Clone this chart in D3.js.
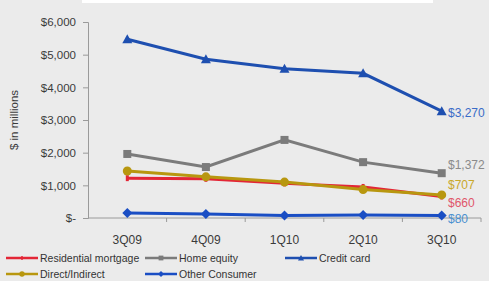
<!DOCTYPE html>
<html><head><meta charset="utf-8">
<script src="https://cdn.jsdelivr.net/npm/d3@7"></script>
<style>body{margin:0;background:#ebebeb;}svg{display:block;font-family:"Liberation Sans",Arial,sans-serif;}</style>
</head><body>
<svg id="c" width="489" height="281"></svg>
<script>
const categories = ["3Q09","4Q09","1Q10","2Q10","3Q10"];
const residentialMortgage = [1220, 1200, 1060, 950, 660];
const homeEquity = [1960, 1560, 2390, 1710, 1372];
const creditCard = [5470, 4860, 4570, 4430, 3270];
const directIndirect = [1440, 1260, 1100, 870, 707];
const otherConsumer = [150, 120, 80, 90, 80];
const yTicks = [0, 1000, 2000, 3000, 4000, 5000, 6000];
const endLabels = ["$660", "$1,372", "$3,270", "$707", "$80"];

const series = [
  {name:"Residential mortgage", values:residentialMortgage, color:"#e32636", marker:"dash", label:endLabels[0], labelColor:"#e0566a"},
  {name:"Home equity", values:homeEquity, color:"#7b7b7b", marker:"square", label:endLabels[1], labelColor:"#8a8a8a"},
  {name:"Credit card", values:creditCard, color:"#1e4fb0", marker:"triangle", label:endLabels[2], labelColor:"#3a6cc8"},
  {name:"Direct/Indirect", values:directIndirect, color:"#b8970f", marker:"circle", label:endLabels[3], labelColor:"#c9a82a"},
  {name:"Other Consumer", values:otherConsumer, color:"#1a4ec4", marker:"diamond", label:endLabels[4], labelColor:"#4a90d0"}
];

const svg = d3.select("#c");
svg.append("rect").attr("x",82).attr("y",0).attr("width",351).attr("height",3).attr("fill","#fff");

const x = d3.scaleBand().domain(categories).range([88, 481]);
const y = d3.scaleLinear().domain([0, 6000]).range([218, 22]);

const yAxis = d3.axisLeft(y).tickValues(yTicks).tickSize(5).tickPadding(7)
  .tickFormat(d => d === 0 ? "$-" : "$" + d3.format(",")(d));
const gy = svg.append("g").attr("transform","translate(88,0)").call(yAxis);
gy.select(".domain").attr("stroke","#9a9a9a");
gy.selectAll(".tick line").attr("stroke","#9a9a9a");
gy.selectAll("text").attr("fill","#3a3a3a").style("font-size","11.5px");

const gx = svg.append("g").attr("transform","translate(0,218)");
gx.append("line").attr("x1",88).attr("x2",481).attr("stroke","#9a9a9a");
gx.selectAll("line.t").data(categories).enter().append("line")
  .attr("x1",(d,i)=>88 + x.step()*(i+1)).attr("x2",(d,i)=>88 + x.step()*(i+1))
  .attr("y1",0).attr("y2",4).attr("stroke","#9a9a9a");
gx.selectAll("text").data(categories).enter().append("text")
  .attr("x",d=>x(d)+x.bandwidth()/2).attr("y",26).attr("text-anchor","middle")
  .attr("fill","#3a3a3a").style("font-size","12px").text(d=>d);

svg.append("text").attr("transform","translate(18,120) rotate(-90)").attr("text-anchor","middle")
  .attr("fill","#3a3a3a").style("font-size","11.5px").text("$ in millions");

const cx = d => x(d) + x.bandwidth()/2;
const line = d3.line().x((v,i)=>cx(categories[i])).y(v=>y(v));

function drawMarker(g, type, px, py, color, s) {
  s = s || 1;
  if (type === "square") g.append("rect").attr("x",px-4*s).attr("y",py-4*s).attr("width",8*s).attr("height",8*s).attr("fill",color);
  else if (type === "circle") g.append("circle").attr("cx",px).attr("cy",py).attr("r",4.5*s).attr("fill",color);
  else if (type === "triangle") g.append("path").attr("d",`M${px},${py-5*s}L${px+5*s},${py+4*s}L${px-5*s},${py+4*s}Z`).attr("fill",color);
  else if (type === "diamond") g.append("path").attr("d",`M${px},${py-5*s}L${px+5*s},${py}L${px},${py+5*s}L${px-5*s},${py}Z`).attr("fill",color);
  else if (type === "dash") g.append("rect").attr("x",px-1.5*s).attr("y",py-3*s).attr("width",3*s).attr("height",6*s).attr("fill",color);
}

const order = [2, 1, 0, 3, 4];
order.forEach(k => {
  const s = series[k];
  const g = svg.append("g");
  g.append("path").attr("d", line(s.values)).attr("fill","none").attr("stroke",s.color).attr("stroke-width",3);
  s.values.forEach((v,i)=>drawMarker(g, s.marker, cx(categories[i]), y(v), s.color));
});

const labelY = {"$3,270":113, "$1,372":165, "$707":185, "$660":203, "$80":219};
series.forEach(s => {
  svg.append("text").attr("x",448).attr("y",labelY[s.label]+4).attr("fill",s.labelColor)
    .style("font-size","12px").text(s.label);
});

const legendPos = [[6,258],[145,258],[285,258],[6,274],[145,274]];
series.forEach((s,i) => {
  const [lx, ly] = legendPos[i];
  const g = svg.append("g");
  g.append("line").attr("x1",lx).attr("x2",lx+32).attr("y1",ly).attr("y2",ly).attr("stroke",s.color).attr("stroke-width",2.5);
  drawMarker(g, s.marker, lx+16, ly, s.color, 0.6);
  g.append("text").attr("x",lx+34).attr("y",ly+4).attr("fill","#333").style("font-size","10.5px").text(s.name);
});
</script>
</body></html>
